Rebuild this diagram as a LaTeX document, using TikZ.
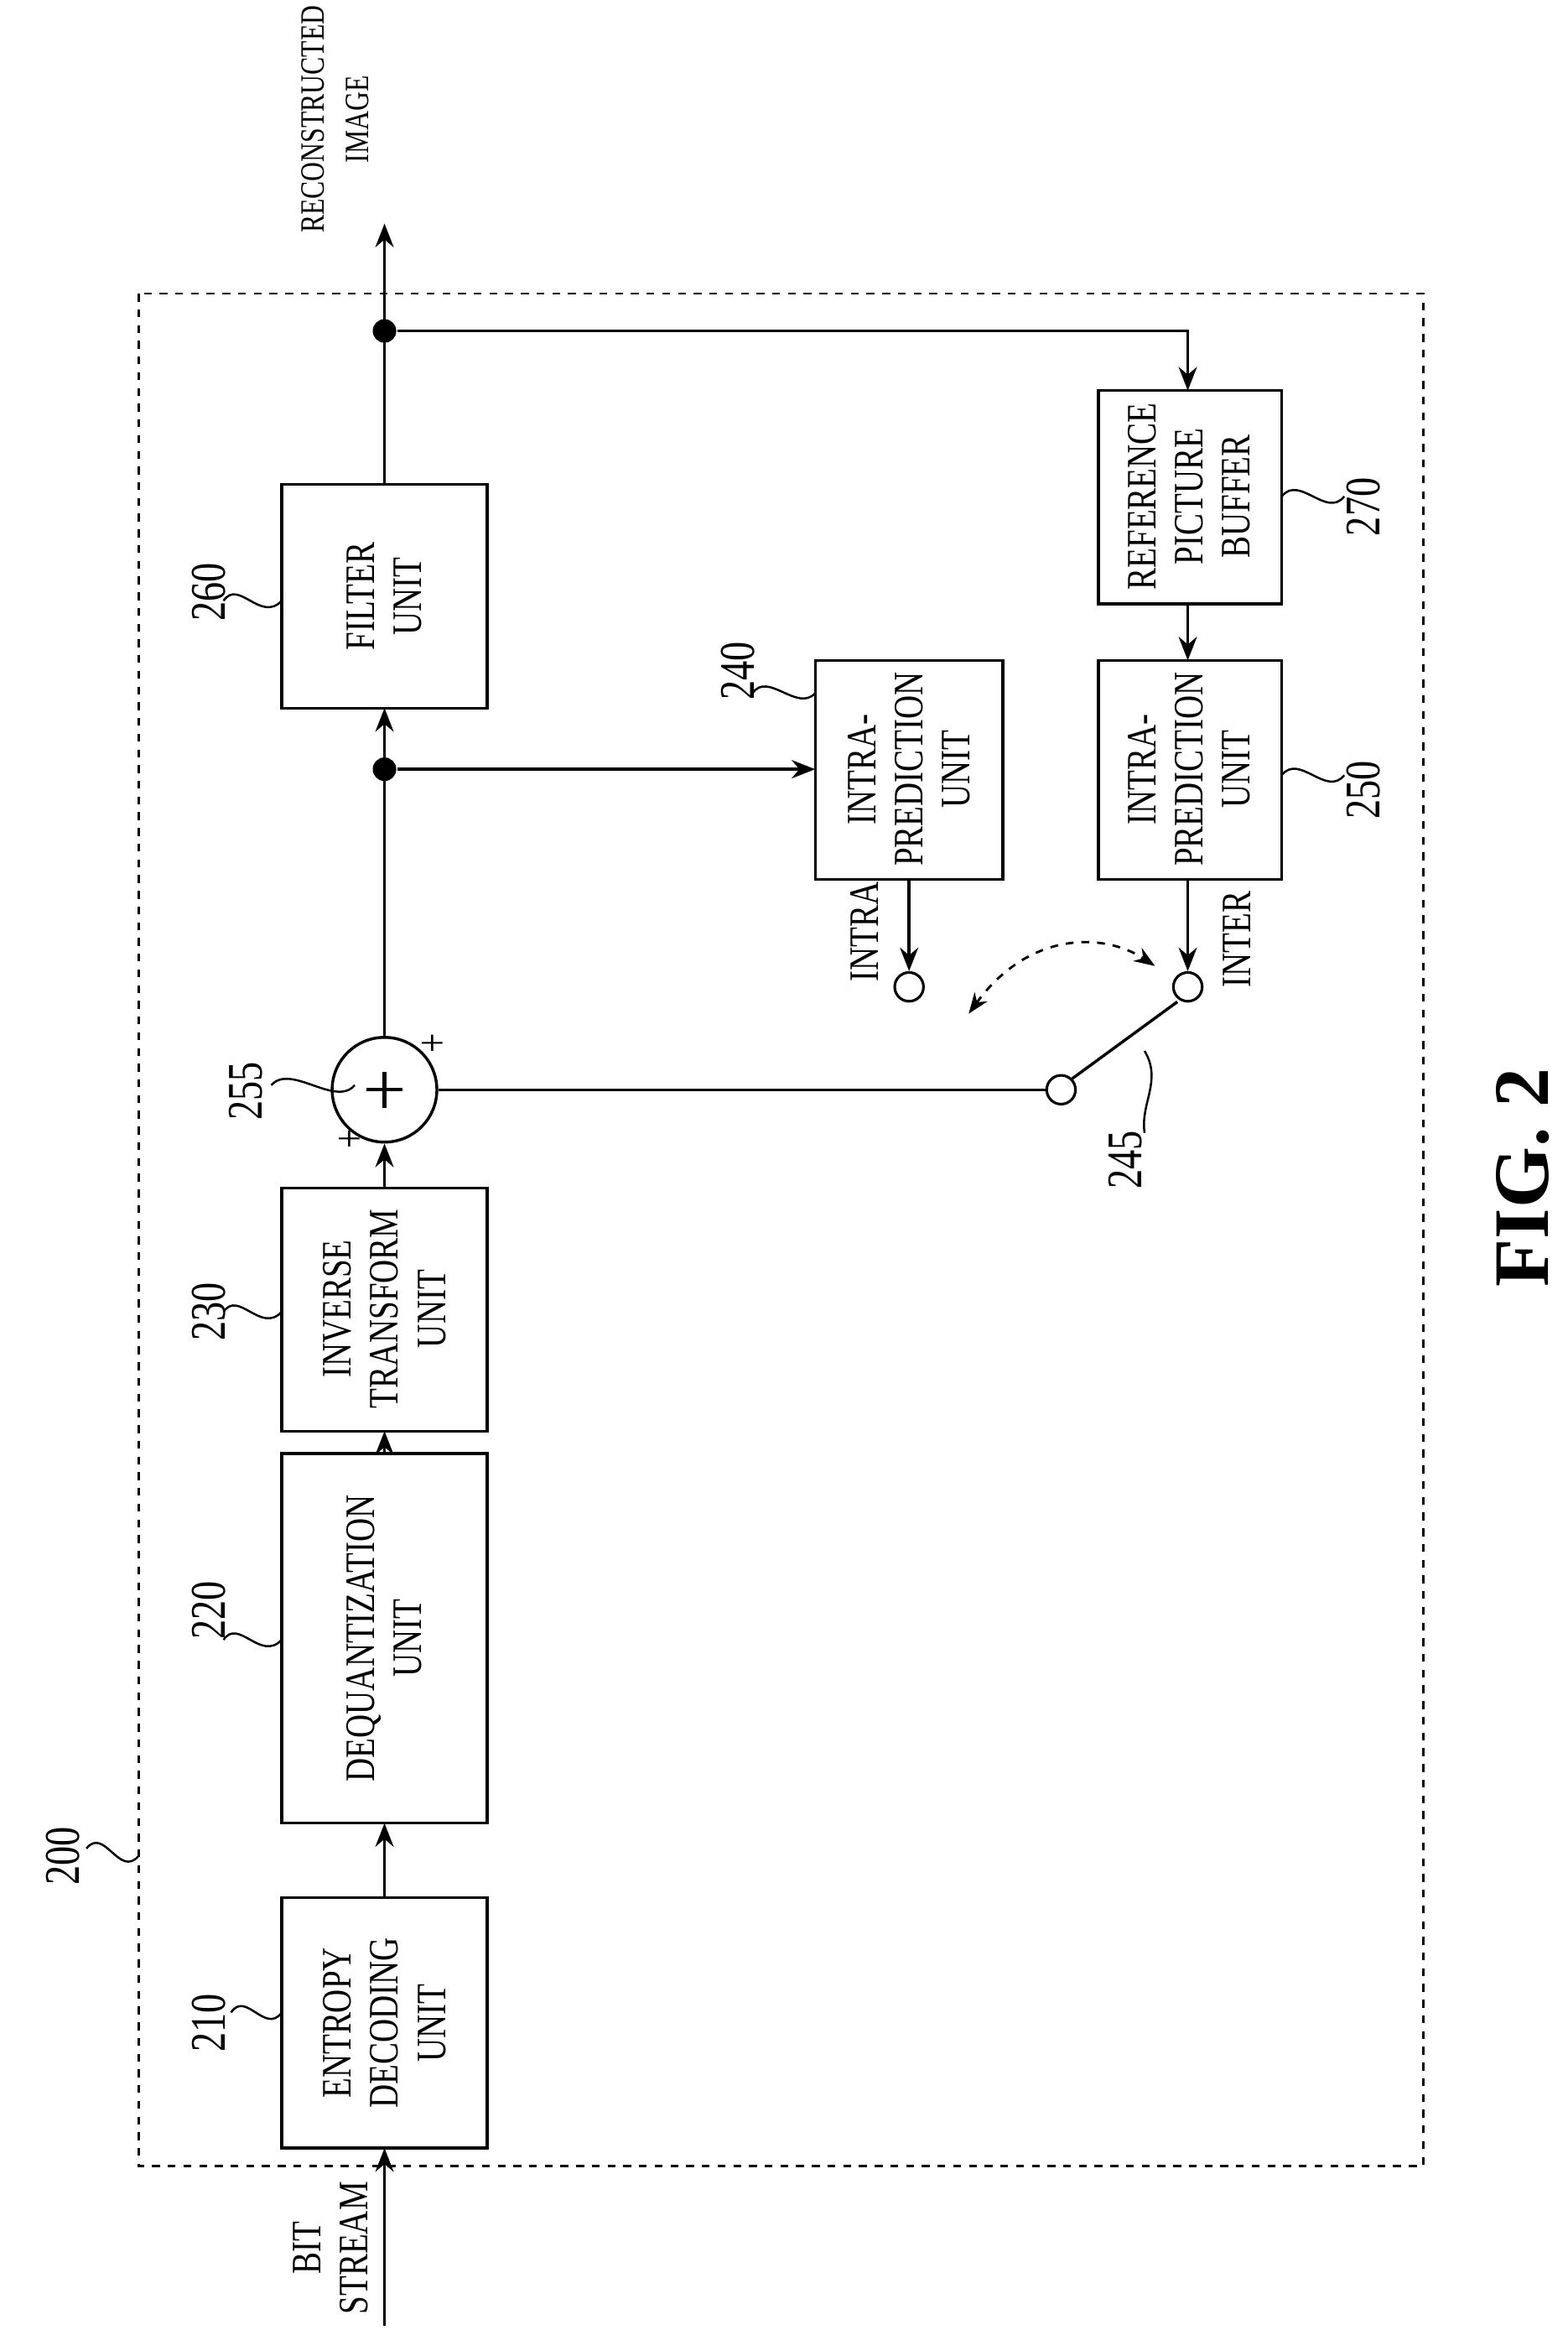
\documentclass[tikz,border=0pt]{standalone}
\usepackage{fontspec}
\setmainfont[FakeStretch=0.78]{Liberation Serif}
\newfontfamily\figfont{Liberation Serif}
\usetikzlibrary{arrows.meta}
\begin{document}
\begin{tikzpicture}[x=0.02cm,y=-0.02cm,line width=1.1pt,
  lbl/.style={rotate=90,font=\fontsize{16}{18}\selectfont,align=center},
  num/.style={rotate=90,font=\fontsize{19}{20}\selectfont},
  arr/.style={-{Stealth[length=9pt,width=7pt]}},
  dot/.style={circle,fill,inner sep=0,minimum size=9pt},
  oc/.style={circle,draw,fill=white,inner sep=0,minimum size=11pt,line width=1pt}]
\useasboundingbox (0,0) rectangle (1052,1563);
\draw[dashed,line width=0.8pt] (93,197) rectangle (955,1453);
% boxes
\draw (189,1273) rectangle (327,1441); \node[lbl] (ent) at (258,1357) {ENTROPY\\DECODING\\UNIT};
\draw (189,975) rectangle (327,1223); \node[lbl] (deq) at (258,1099) {DEQUANTIZATION\\UNIT};
\draw (189,797) rectangle (327,960); \node[lbl] (inv) at (258,878) {INVERSE\\TRANSFORM\\UNIT};
\draw (189,325) rectangle (327,475); \node[lbl] (fil) at (258,400) {FILTER\\UNIT};
\draw (547,443) rectangle (673,590); \node[lbl] (ip) at (610,516) {INTRA-\\PREDICTION\\UNIT};
\draw (737,443) rectangle (860,590); \node[lbl] (ep) at (798,516) {INTRA-\\PREDICTION\\UNIT};
\draw (737,262) rectangle (860,405); \node[lbl] (rb) at (798,333) {REFERENCE\\PICTURE\\BUFFER};
% sum
\node[circle,draw,minimum size=40pt,inner sep=0] (sum) at (258,731) {};
\draw[line width=1.4pt] (246,731) -- (270,731) (258,719) -- (258,743);
\node[num,font=\fontsize{17}{17}\selectfont] at (236,764) {+};
\node[num,font=\fontsize{17}{17}\selectfont] at (292,700) {+};
% main line
\coordinate (bs) at (258,1560);
\draw[arr] (bs) -- (258,1441);
\draw[arr] (258,1273) -- (258,1223);
\draw[arr] (258,975) -- (258,960);
\draw[arr] (258,797) -- (sum.south);
\node[dot] (j1) at (258,516) {};
\node[dot] (j2) at (258,222) {};
\draw[arr] (sum.north) -- (258,475);
\draw[arr] (258,325) -- (258,150);
\draw[arr] (j1) -- (547,516);
\draw[arr] (j2) -- (797,222) -- (797,262);
\draw[arr] (797,405) -- (797,443);
% switch
\node[oc] (ci) at (610,662) {};
\node[oc] (ce) at (797,662) {};
\node[oc] (cs) at (712,731) {};
\draw[arr] (610,590) -- (ci.north);
\draw[arr] (797,590) -- (ce.north);
\draw (sum.east) -- (cs.west);
\draw (cs.north east) -- (790,672);
\draw[dashed,line width=0.9pt,{Stealth[length=8pt]}-{Stealth[length=8pt]}] (650,680) .. controls (690,625) and (740,625) .. (775,648);
% labels
\node[lbl] at (580,625) {INTRA};
\node[lbl] at (830,630) {INTER};
\node[lbl] at (222,1508) {BIT\\STREAM};
\node[lbl,font=\fontsize{13}{17}\selectfont] at (225,80) {RECONSTRUCTED\\IMAGE};
\node[rotate=90,font=\figfont\bfseries\fontsize{30}{30}\selectfont] at (1022,790) {FIG. 2};
% reference numerals with leaders
\node[num] at (42,1245) {200};
\draw[line width=0.8pt] (58,1240) .. controls (70,1225) and (80,1260) .. (93,1245);
\node[num] at (140,1357) {210};
\draw[line width=0.8pt] (155,1350) .. controls (165,1335) and (178,1365) .. (189,1350);
\node[num] at (140,1080) {220};
\draw[line width=0.8pt] (150,1100) .. controls (160,1085) and (175,1115) .. (189,1100);
\node[num] at (140,880) {230};
\draw[line width=0.8pt] (150,880) .. controls (160,865) and (175,895) .. (189,880);
\node[num] at (165,732) {255};
\draw[line width=0.8pt] (182,728) .. controls (195,713) and (225,743) .. (238,728);
\node[num] at (140,397) {260};
\draw[line width=0.8pt] (150,403) .. controls (160,388) and (175,418) .. (189,403);
\node[num] at (495,450) {240};
\draw[line width=0.8pt] (505,465) .. controls (515,450) and (535,478) .. (547,465);
\node[num] at (915,530) {250};
\draw[line width=0.8pt] (860,520) .. controls (872,505) and (890,535) .. (902,520);
\node[num] at (915,340) {270};
\draw[line width=0.8pt] (860,333) .. controls (872,318) and (890,348) .. (902,333);
\node[num] at (755,778) {245};
\draw[line width=0.8pt] (768,760) .. controls (765,740) and (780,725) .. (768,705);
\end{tikzpicture}
\end{document}
